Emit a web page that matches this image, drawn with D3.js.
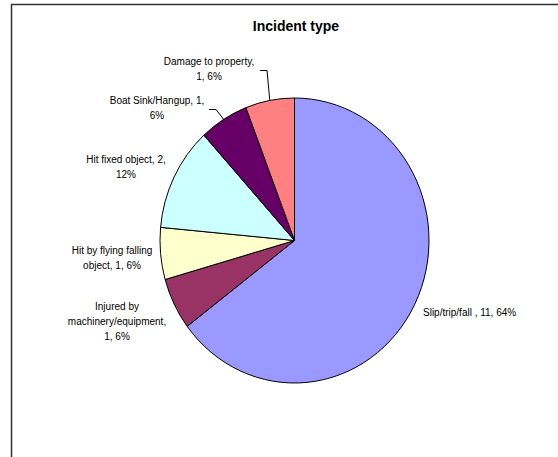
<!DOCTYPE html>
<html>
<head>
<meta charset="utf-8">
<script src="https://cdn.jsdelivr.net/npm/d3@7"></script>
<style>
  body { margin: 0; background: #fff; overflow: hidden; }
  svg { display: block; }
  text { font-family: "Liberation Sans", Arial, sans-serif; fill: #000; }
</style>
</head>
<body>
<div id="chart"></div>
<script>
// Incident type pie (Excel style)
const categories = ["Slip/trip/fall ", "Injured by machinery/equipment", "Hit by flying falling object",
  "Hit fixed object", "Boat Sink/Hangup", "Damage to property"];
const counts = [11, 1, 1, 2, 1, 1];
const percents = ["64%", "6%", "6%", "12%", "6%", "6%"];
const colors = ["#9999FF", "#993366", "#FFFFCC", "#CCFFFF", "#660066", "#FF8080"];

// label layout: line breaks, anchor point, leader line elbow
const labelLayout = [
  {lines: ["Slip/trip/fall , 11, 64%"], x: 423, y: 316, anchor: "start"},
  {lines: ["Injured by", "machinery/equipment,", "1, 6%"], x: 117, y: 310, anchor: "middle"},
  {lines: ["Hit by flying falling", "object, 1, 6%"], x: 112, y: 254, anchor: "middle"},
  {lines: ["Hit fixed object, 2,", "12%"], x: 126, y: 163, anchor: "middle"},
  {lines: ["Boat Sink/Hangup, 1,", "6%"], x: 157, y: 104, anchor: "middle", leader: [[209, 109.5], [216, 109.5]]},
  {lines: ["Damage to property,", "1, 6%"], x: 209, y: 65, anchor: "middle", leader: [[260, 70.5], [267, 70.5]]}
];

const width = 558, height = 457;
const cx = 294.5, cy = 240.5, rx = 134.5, ry = 142.5;

const svg = d3.select("#chart")
  .append("svg")
  .attr("width", width)
  .attr("height", height);

svg.append("rect")
  .attr("x", 11.5).attr("y", 4.5)
  .attr("width", 600).attr("height", 500)
  .attr("fill", "#fff")
  .attr("stroke", "#333")
  .attr("stroke-width", 1.5);

svg.append("text")
  .attr("x", 296)
  .attr("y", 31)
  .attr("text-anchor", "middle")
  .style("font-weight", "bold")
  .style("font-size", "14px")
  .text("Incident type");

const pie = d3.pie().sort(null).value(d => d)(counts);
const arc = d3.arc().innerRadius(0).outerRadius(rx);
const edge = d3.arc().innerRadius(rx).outerRadius(rx);

const g = svg.append("g")
  .attr("transform", `translate(${cx},${cy}) scale(1,${ry / rx})`);

g.selectAll("path")
  .data(pie)
  .join("path")
  .attr("d", arc)
  .attr("fill", (d, i) => colors[i])
  .attr("stroke", "#000")
  .attr("stroke-width", 1)
  .attr("vector-effect", "non-scaling-stroke");

// labels
const lineH = 15;
labelLayout.forEach((lab, i) => {
  const t = svg.append("text")
    .attr("text-anchor", lab.anchor)
    .style("font-size", "10px");
  lab.lines.forEach((ln, j) => {
    t.append("tspan")
      .attr("x", lab.x)
      .attr("y", lab.y + j * lineH)
      .text(ln);
  });
  if (lab.leader) {
    const c = edge.centroid(pie[i]);
    const pts = lab.leader.concat([[cx + c[0], cy + c[1] * ry / rx]]);
    svg.append("path")
      .attr("d", d3.line()(pts))
      .attr("fill", "none")
      .attr("stroke", "#000")
      .attr("stroke-width", 1);
  }
});
</script>
</body>
</html>
